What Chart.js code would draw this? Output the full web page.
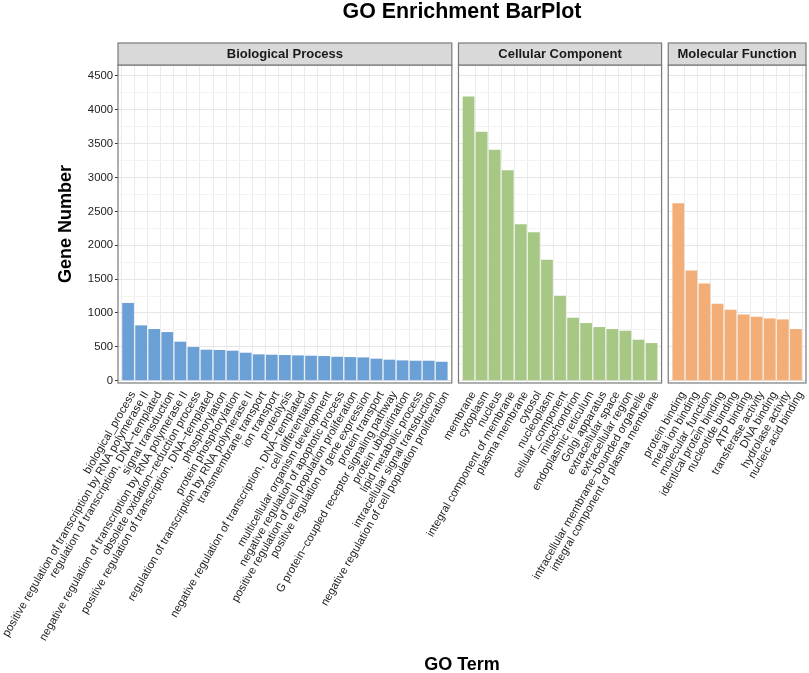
<!DOCTYPE html>
<html>
<head>
<meta charset="utf-8">
<title>GO Enrichment BarPlot</title>
<script src="https://cdn.jsdelivr.net/npm/chart.js@4.4.1/dist/chart.umd.min.js"></script>
<style>
  html, body { margin: 0; padding: 0; background: #fff; }
  #wrap { width: 809px; height: 673px; }
</style>
</head>
<body>
<div id="wrap"><canvas id="goChart" width="809" height="673"></canvas></div>
<script>
// datos
const bpTerms = [
  "biological_process",
  "positive regulation of transcription by RNA polymerase II",
  "regulation of transcription, DNA\u2212templated",
  "signal transduction",
  "negative regulation of transcription by RNA polymerase II",
  "obsolete oxidation\u2212reduction process",
  "positive regulation of transcription, DNA\u2212templated",
  "phosphorylation",
  "protein phosphorylation",
  "regulation of transcription by RNA polymerase II",
  "transmembrane transport",
  "ion transport",
  "proteolysis",
  "negative regulation of transcription, DNA\u2212templated",
  "cell differentiation",
  "multicellular organism development",
  "negative regulation of apoptotic process",
  "positive regulation of cell population proliferation",
  "positive regulation of gene expression",
  "protein transport",
  "G protein\u2212coupled receptor signaling pathway",
  "protein ubiquitination",
  "lipid metabolic process",
  "intracellular signal transduction",
  "negative regulation of cell population proliferation"
];
const bpCounts = [1148, 817, 763, 718, 576, 497, 458, 453, 443, 413, 389, 384, 379, 374, 369,
                  364, 354, 349, 344, 325, 310, 300, 295, 295, 280];

const ccTerms = [
  "membrane", "cytoplasm", "nucleus", "integral component of membrane", "plasma membrane",
  "cytosol", "nucleoplasm", "cellular_component", "mitochondrion", "endoplasmic reticulum",
  "Golgi apparatus", "extracellular space", "extracellular region",
  "intracellular membrane\u2212bounded organelle", "integral component of plasma membrane"
];
const ccCounts = [4197, 3675, 3410, 3109, 2312, 2194, 1786, 1255, 930, 851, 792, 763, 738, 605, 556];

const mfTerms = [
  "protein binding", "metal ion binding", "molecular_function", "identical protein binding",
  "nucleotide binding", "ATP binding", "transferase activity", "DNA binding",
  "hydrolase activity", "nucleic acid binding"
];
const mfCounts = [2622, 1629, 1437, 1137, 1048, 979, 945, 920, 905, 763];

const panelNames = ["Biological Process", "Cellular Component", "Molecular Function"];
const panelColors = ["#6aa0d5", "#a7c885", "#f3ad76"];

const yTicks = [0, 500, 1000, 1500, 2000, 2500, 3000, 3500, 4000, 4500];
// lineas menores a mitad de camino entre ticks
const yMinor = yTicks.slice(1).map((v, i) => (v + yTicks[i]) / 2);

// posiciones en x: cada panel seguido del siguiente con un hueco
const GAP = 2.05;   // distancia entre la ultima barra de un panel y la primera del siguiente
const PAD = 0.77;   // margen del panel a cada lado
const groups = [[bpTerms, bpCounts], [ccTerms, ccCounts], [mfTerms, mfCounts]];
const panels = [];
const allLabels = [];
const allPos = [];
let start = 0;
groups.forEach(([terms, counts], g) => {
  const xs = terms.map((_, i) => start + i);
  panels.push({ name: panelNames[g], lo: start - PAD, hi: xs[xs.length - 1] + PAD, xs, counts });
  terms.forEach((t, i) => { allLabels.push(t); allPos.push(xs[i]); });
  start = xs[xs.length - 1] + GAP;
});

const datasets = panels.map((p, g) => ({
  label: p.name,
  data: p.xs.map((x, i) => ({ x: x, y: p.counts[i] })),
  backgroundColor: panelColors[g],
  borderWidth: 0,
  barPercentage: 0.9,
  categoryPercentage: 1,
  grouped: false
}));

const FONT = "'Liberation Sans', Arial, Helvetica, sans-serif";

// paneles, bordes y tiras de titulo (facet de ggplot)
const facetPlugin = {
  id: "facets",
  beforeDatasetsDraw(chart) {
    const { ctx, chartArea: a, scales: { x } } = chart;
    ctx.save();
    ctx.fillStyle = "#ffffff";
    for (let i = 1; i < panels.length; i++) {
      const l = x.getPixelForValue(panels[i - 1].hi);
      const r = x.getPixelForValue(panels[i].lo);
      ctx.fillRect(l, a.top - 1, r - l, a.bottom - a.top + 4);
    }
    ctx.restore();
  },
  afterDatasetsDraw(chart) {
    const { ctx, chartArea: a, scales: { x } } = chart;
    const stripH = 22;
    ctx.save();
    ctx.lineWidth = 1.2;
    ctx.strokeStyle = "#7a7a7a";
    panels.forEach(p => {
      const l = x.getPixelForValue(p.lo);
      const r = x.getPixelForValue(p.hi);
      ctx.strokeRect(l, a.top, r - l, a.bottom - a.top);
      ctx.fillStyle = "#d9d9d9";
      ctx.fillRect(l, a.top - stripH, r - l, stripH);
      ctx.strokeRect(l, a.top - stripH, r - l, stripH);
      ctx.fillStyle = "#1a1a1a";
      ctx.font = "bold 13px " + FONT;
      ctx.textAlign = "center";
      ctx.textBaseline = "middle";
      ctx.fillText(p.name, (l + r) / 2, a.top - stripH / 2 + 0.5);
    });
    ctx.restore();
  }
};

const ctx = document.getElementById("goChart").getContext("2d");
const goChart = new Chart(ctx, {
  type: "bar",
  data: { datasets },
  plugins: [facetPlugin],
  options: {
    responsive: false,
    animation: false,
    layout: { padding: { top: 0, left: 55, right: 3, bottom: 0 } },
    plugins: {
      legend: { display: false },
      tooltip: { enabled: false },
      title: {
        display: true,
        text: "GO Enrichment BarPlot",
        fullSize: false,
        color: "#000",
        font: { family: FONT, size: 21.4, weight: "bold", lineHeight: 1 },
        padding: { top: 1, bottom: 42.6 }
      }
    },
    scales: {
      x: {
        type: "linear",
        offset: false,
        min: panels[0].lo,
        max: panels[panels.length - 1].hi,
        afterBuildTicks: axis => { axis.ticks = allPos.map(v => ({ value: v })); },
        afterFit: axis => { axis.height = 673 - 383; axis.paddingLeft = 0; axis.paddingRight = 0; },
        grid: { color: "#ebebeb", lineWidth: 1, tickLength: 2, tickColor: "rgba(0,0,0,0)" },
        border: { display: false },
        ticks: {
          autoSkip: false,
          minRotation: 60,
          maxRotation: 60,
          padding: 4,
          labelOffset: 5,
          color: "#222",
          font: { family: FONT, size: 11.3 },
          callback: (value, index) => allLabels[index]
        },
        title: {
          display: true,
          text: "GO Term",
          color: "#000",
          font: { family: FONT, size: 18, weight: "bold", lineHeight: 0.85 },
          padding: { top: 0, bottom: 0 }
        }
      },
      y: {
        min: -34,
        max: 4662,
        afterBuildTicks: axis => {
          axis.ticks = yTicks.concat(yMinor).sort((a, b) => a - b).map(v => ({ value: v }));
        },
        afterFit: axis => { axis.width = 118 - 55; },
        grid: {
          color: c => (yTicks.includes(c.tick.value) ? "#e6e6e6" : "#f3f3f3"),
          tickColor: c => (yTicks.includes(c.tick.value) ? "#333" : "rgba(0,0,0,0)"),
          tickLength: 3,
          lineWidth: 1
        },
        border: { display: false },
        ticks: {
          autoSkip: false,
          padding: 2,
          color: "#222",
          font: { family: FONT, size: 11.3 },
          callback: v => (yTicks.includes(v) ? String(v) : "")
        },
        title: {
          display: true,
          text: "Gene Number",
          color: "#000",
          font: { family: FONT, size: 18, weight: "bold", lineHeight: 1.2 },
          padding: 0
        }
      }
    }
  }
});
</script>
</body>
</html>
